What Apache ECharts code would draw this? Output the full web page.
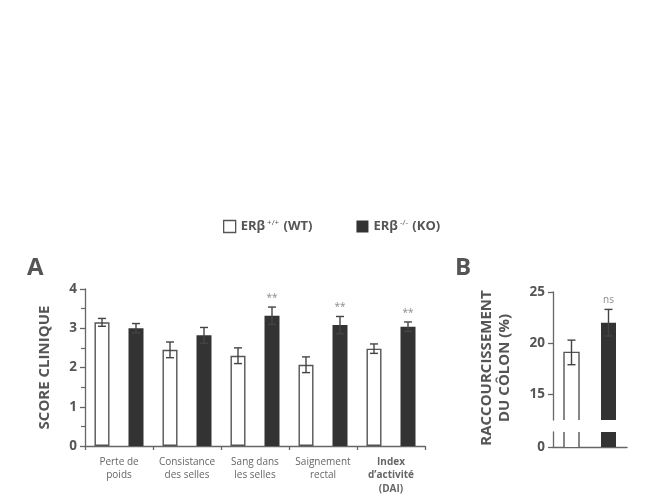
<!DOCTYPE html>
<html>
<head>
<meta charset="utf-8">
<script src="https://cdn.jsdelivr.net/npm/echarts@6/dist/echarts.min.js"></script>
<style>
  html, body { margin: 0; padding: 0; background: #fff; }
  #main { width: 647px; height: 503px; }
</style>
</head>
<body>
<div id="main"></div>
<script>
// données du panneau A (score clinique)
const catsA = ['Perte de\npoids', 'Consistance\ndes selles', 'Sang dans\nles selles', 'Saignement\nrectal', 'Index\nd\u2019activit\u00e9\n(DAI)'];
const wtScore = [3.15, 2.45, 2.3, 2.07, 2.48];
const wtScoreErr = [0.1, 0.2, 0.2, 0.2, 0.12];
const koScore = [3.0, 2.82, 3.32, 3.08, 3.04];
const koScoreErr = [0.12, 0.2, 0.22, 0.22, 0.12];
const koSig = ['', '', '**', '**', '**'];
const ticksA = [0, 1, 2, 3, 4];

// données du panneau B (raccourcissement du côlon)
const catsB = ['WT', 'KO'];
const colon = [19.1, 22.0];
const colonErr = [1.2, 1.3];
const colonSig = ['', 'ns'];
const ticksB = [15, 20, 25];

const chartDom = document.getElementById('main');
const myChart = echarts.init(chartDom);

const FONT = '"Open Sans", sans-serif';
const AXIS = '#666';
const TXT = '#555';
const DARK = '#333';
const BAR_W = 15;
const BAR_GAP = 19;

// barre d'erreur + étiquette de significativité
function errItem(offset) {
  return function (params, api) {
    const i = api.value(0), m = api.value(1), e = api.value(2);
    const sig = api.value(3);
    const x = api.coord([i, m])[0] + offset;
    const yt = api.coord([i, m + e])[1];
    const yb = api.coord([i, m - e])[1];
    const children = [
      { type: 'line', shape: { x1: x, y1: yt, x2: x, y2: yb }, style: { stroke: '#444', lineWidth: 1.4 } },
      { type: 'line', shape: { x1: x - 4, y1: yt, x2: x + 4, y2: yt }, style: { stroke: '#444', lineWidth: 1.4 } },
      { type: 'line', shape: { x1: x - 4, y1: yb, x2: x + 4, y2: yb }, style: { stroke: '#444', lineWidth: 1.4 } }
    ];
    if (sig) {
      children.push({ type: 'text', x: x, y: yt - 4,
        style: { text: sig, fill: '#8a8a8a', font: '10px ' + FONT, align: 'center', verticalAlign: 'bottom' } });
    }
    return { type: 'group', children: children };
  };
}

// barre du panneau B (axe coupé : on coupe la barre à la zone du graphique)
function barItemB(filled) {
  return function (params, api) {
    const cs = params.coordSys;
    const i = api.value(0), v = api.value(1);
    const x = api.coord([i, v])[0];
    let yTop = api.coord([i, v])[1];
    let yBot = api.coord([i, 0])[1];
    const cut = yTop < cs.y;
    yTop = Math.max(yTop, cs.y);
    yBot = Math.min(yBot, cs.y + cs.height);
    const l = x - BAR_W / 2, r = x + BAR_W / 2;
    if (filled) {
      return { type: 'rect', shape: { x: l, y: yTop, width: BAR_W, height: yBot - yTop }, style: { fill: DARK } };
    }
    const st = { stroke: '#555', lineWidth: 1.4, fill: null };
    const kids = [{ type: 'rect', shape: { x: l, y: yTop, width: BAR_W, height: yBot - yTop }, style: { fill: '#fff' } }];
    if (cut) {
      kids.push({ type: 'line', shape: { x1: l, y1: yTop, x2: l, y2: yBot }, style: st });
      kids.push({ type: 'line', shape: { x1: r, y1: yTop, x2: r, y2: yBot }, style: st });
    } else {
      kids.push({ type: 'polyline', shape: { points: [[l, yBot], [l, yTop], [r, yTop], [r, yBot]] }, style: st });
    }
    return { type: 'group', children: kids };
  };
}

const axisLine = { show: true, lineStyle: { color: AXIS, width: 1.3 } };
const tickLabel = { color: TXT, fontFamily: FONT, fontWeight: 'bold', fontSize: 13.5, margin: 8 };

const option = {
  animation: false,
  textStyle: { fontFamily: FONT },
  legend: {
    left: 223, top: 219, padding: 0,
    itemWidth: 12, itemHeight: 12, itemGap: 44,
    data: [
      { name: 'WT', icon: 'rect', itemStyle: { color: '#fff', borderColor: '#555', borderWidth: 1.3 } },
      { name: 'KO', icon: 'rect', itemStyle: { color: DARK, borderWidth: 0 } }
    ],
    formatter: function (n) {
      return n === 'WT' ? '{t|ER\u03b2}{s|+/+}{t| (WT)}' : '{t|ER\u03b2}{s|-/-}{t| (KO)}';
    },
    textStyle: {
      rich: {
        t: { color: TXT, fontFamily: FONT, fontWeight: 'bold', fontSize: 13, lineHeight: 15 },
        s: { color: TXT, fontFamily: FONT, fontSize: 8, lineHeight: 15, verticalAlign: 'top', padding: [0, 1, 6, 2] }
      }
    }
  },
  graphic: [
    { type: 'text', left: 27, top: 256, style: { text: 'A', fill: TXT, font: 'bold 24px ' + FONT } },
    { type: 'text', left: 455, top: 256, style: { text: 'B', fill: TXT, font: 'bold 24px ' + FONT } },
    { type: 'text', x: 496, y: 368, rotation: Math.PI / 2,
      style: { text: 'RACCOURCISSEMENT\nDU C\u00d4LON (%)', fill: TXT, font: 'bold 15px ' + FONT,
        align: 'center', verticalAlign: 'middle', lineHeight: 18 } }
  ],
  grid: [
    { left: 85, top: 289, width: 340, height: 157 },
    { left: 553, top: 292, width: 74, height: 128 },
    { left: 553, top: 432, width: 74, height: 15 }
  ],
  xAxis: [
    {
      type: 'category', gridIndex: 0, data: catsA,
      axisLine: axisLine,
      axisTick: { show: true, length: 4, lineStyle: { color: AXIS, width: 1.3 } },
      axisLabel: {
        color: '#666', fontSize: 10, lineHeight: 13.5, margin: 9, interval: 0,
        formatter: function (v, idx) {
          if (idx !== 4) return v;
          return v.split('\n').map(function (s) { return '{b|' + s + '}'; }).join('\n');
        },
        rich: { b: { fontWeight: 'bold', fontSize: 10, lineHeight: 13.5, color: '#666', fontFamily: FONT } }
      }
    },
    { type: 'category', gridIndex: 1, data: catsB, show: false },
    {
      type: 'category', gridIndex: 2, data: catsB,
      axisLine: axisLine, axisTick: { show: false }, axisLabel: { show: false }
    }
  ],
  yAxis: [
    {
      type: 'value', gridIndex: 0, min: 0, max: 4, interval: 1,
      axisLine: axisLine,
      axisTick: { show: true, length: 5, lineStyle: { color: AXIS, width: 1.3 } },
      minorTick: { show: true, splitNumber: 2, length: 4, lineStyle: { color: AXIS, width: 1.2 } },
      splitLine: { show: false },
      axisLabel: Object.assign({ customValues: ticksA }, tickLabel),
      name: 'SCORE CLINIQUE', nameLocation: 'middle', nameGap: 33, nameRotate: 90,
      nameTextStyle: { color: TXT, fontFamily: FONT, fontWeight: 'bold', fontSize: 15 }
    },
    {
      type: 'value', gridIndex: 1, min: 12.5, max: 25,
      axisLine: axisLine,
      axisTick: { show: true, length: 5, customValues: ticksB, lineStyle: { color: AXIS, width: 1.3 } },
      splitLine: { show: false },
      axisLabel: Object.assign({ customValues: ticksB }, tickLabel)
    },
    {
      type: 'value', gridIndex: 2, min: 0, max: 1,
      axisLine: axisLine,
      axisTick: { show: true, length: 5, customValues: [0], lineStyle: { color: AXIS, width: 1.3 } },
      splitLine: { show: false },
      axisLabel: Object.assign({ customValues: [0] }, tickLabel)
    }
  ],
  series: [
    {
      name: 'WT', type: 'bar', xAxisIndex: 0, yAxisIndex: 0, data: wtScore,
      barWidth: BAR_W, barGap: (BAR_GAP / BAR_W * 100) + '%',
      itemStyle: { color: '#fff', borderColor: '#555', borderWidth: 1.4 }
    },
    {
      name: 'KO', type: 'bar', xAxisIndex: 0, yAxisIndex: 0, data: koScore,
      barWidth: BAR_W,
      itemStyle: { color: DARK }
    },
    {
      type: 'custom', xAxisIndex: 0, yAxisIndex: 0, z: 5,
      renderItem: errItem(-(BAR_W + BAR_GAP) / 2),
      data: wtScore.map(function (v, i) { return [i, v, wtScoreErr[i], '']; })
    },
    {
      type: 'custom', xAxisIndex: 0, yAxisIndex: 0, z: 5,
      renderItem: errItem((BAR_W + BAR_GAP) / 2),
      data: koScore.map(function (v, i) { return [i, v, koScoreErr[i], koSig[i]]; })
    },
    // panneau B, partie haute
    {
      name: 'WT', type: 'custom', xAxisIndex: 1, yAxisIndex: 1, clip: false,
      renderItem: barItemB(false), data: [[0, colon[0]]]
    },
    {
      name: 'KO', type: 'custom', xAxisIndex: 1, yAxisIndex: 1, clip: false,
      renderItem: barItemB(true), data: [[1, colon[1]]]
    },
    {
      type: 'custom', xAxisIndex: 1, yAxisIndex: 1, z: 5,
      renderItem: errItem(0),
      data: colon.map(function (v, i) { return [i, v, colonErr[i], colonSig[i]]; })
    },
    // panneau B, partie basse (axe coupé)
    {
      name: 'WT', type: 'custom', xAxisIndex: 2, yAxisIndex: 2, clip: false,
      renderItem: barItemB(false), data: [[0, colon[0]]]
    },
    {
      name: 'KO', type: 'custom', xAxisIndex: 2, yAxisIndex: 2, clip: false,
      renderItem: barItemB(true), data: [[1, colon[1]]]
    }
  ]
};

option && myChart.setOption(option);
</script>
</body>
</html>
